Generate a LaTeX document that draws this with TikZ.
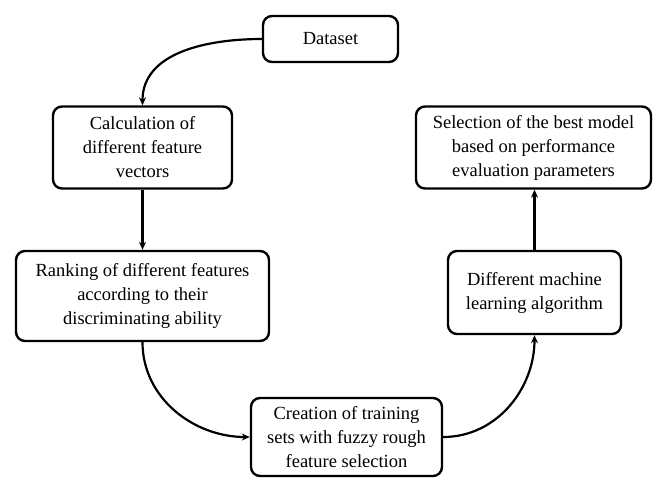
\documentclass[tikz,border=0pt]{standalone}
\usepackage{fontspec}
\setmainfont{Liberation Serif}
\usetikzlibrary{arrows.meta}
\begin{document}
\begin{tikzpicture}[x=1pt,y=-1pt,
  box/.style={draw, line width=2.4pt, rounded corners=9pt, align=center, inner sep=0pt,
    font=\fontsize{18.5}{24}\selectfont},
  conn/.style={line width=2.2pt, -{Stealth[length=8pt,width=7pt]}}]
\useasboundingbox (0,0) rectangle (654,480);
\node[box, minimum width=135pt, minimum height=46pt] (dataset) at (330.5,39) {Dataset};
\node[box, minimum width=179pt, minimum height=82pt] (calc) at (142.5,147.5) {Calculation of\\different feature\\vectors};
\node[box, minimum width=235pt, minimum height=82pt] (select) at (533.5,147.5) {Selection of the best model\\based on performance\\evaluation parameters};
\node[box, minimum width=253pt, minimum height=90pt] (rank) at (142.5,296) {Ranking of different features\\according to their\\discriminating ability};
\node[box, minimum width=173pt, minimum height=83pt] (diff) at (534.5,292.5) {Different machine\\learning algorithm};
\node[box, minimum width=191pt, minimum height=78pt] (create) at (346.5,437) {Creation of training\\sets with fuzzy rough\\feature selection};
\draw[conn] (dataset.west) to[out=180,in=90] (calc.north);
\draw[conn] (calc.south) -- (rank.north);
\draw[conn] (rank.south) to[out=-90,in=180] (create.west);
\draw[conn] (create.east) to[out=0,in=-90] (diff.south);
\draw[conn] (diff.north) -- (select.south -| diff.north);
\end{tikzpicture}
\end{document}
